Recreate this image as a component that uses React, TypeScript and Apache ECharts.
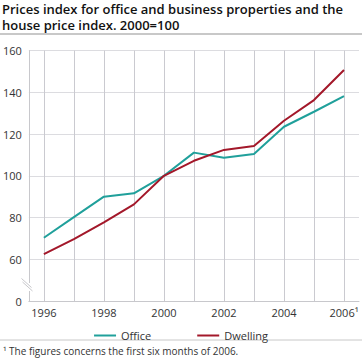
import React, { useEffect, useRef } from "react";
import * as echarts from "echarts";

const years = ["1996", "1997", "1998", "1999", "2000", "2001", "2002", "2003", "2004", "2005", "2006¹"];
const office = [70.3, 80.2, 90.0, 91.6, 100, 111.1, 108.7, 110.4, 123.5, 130.7, 138.2];
const dwelling = [62.5, 69.7, 77.7, 86.3, 100, 107.2, 112.4, 114.3, 126.4, 136.3, 150.7];
const yTicks = [40, 60, 80, 100, 120, 140, 160];
const yTickLabels = ["0", "60", "80", "100", "120", "140", "160"];

const titleLines = ["Prices index for office and business properties and the", "house price index. 2000=100"];
const footnote = "¹ The figures concerns the first six months of 2006.";

const FONT = "'Open Sans', 'Noto Sans', sans-serif";
const GRID = "#dcdce0";
const VGRID = "#cacad0";

export default function App() {
  const ref = useRef<HTMLDivElement>(null);
  useEffect(() => {
    if (!ref.current) return;
    const chart = echarts.init(ref.current, undefined, { renderer: "svg" });
    chart.setOption({
      animation: false,
      textStyle: { fontFamily: FONT },
      legend: {
        top: 325,
        left: "center",
        itemGap: 46,
        itemWidth: 22,
        itemHeight: 2,
        icon: "rect",
        textStyle: { fontSize: 11, color: "#333", fontFamily: FONT },
        data: ["Office", "Dwelling"],
      },
      grid: { left: 27, right: 3, top: 50.6, bottom: 63, containLabel: false },
      xAxis: {
        type: "category",
        data: years,
        boundaryGap: true,
        axisLine: { show: true, lineStyle: { color: "#c8c8cc", width: 1 } },
        axisTick: { show: false },
        axisLabel: {
          interval: 1,
          fontSize: 11,
          color: "#333",
          margin: 6,
          fontFamily: FONT,
        },
        splitLine: { show: false },
      },
      yAxis: {
        type: "value",
        min: 40,
        max: 160,
        interval: 20,
        axisLine: { show: true, lineStyle: { color: "#c8c8cc", width: 1 } },
        axisTick: { show: false },
        axisLabel: {
          fontSize: 11,
          color: "#333",
          margin: 7,
          fontFamily: FONT,
          formatter: (v: number) => {
            const i = yTicks.indexOf(v);
            return i >= 0 ? yTickLabels[i] : "";
          },
        },
        splitLine: { show: true, lineStyle: { color: GRID, width: 1 } },
      },
      series: [
        {
          name: "gridlines",
          type: "line",
          data: office,
          symbol: "none",
          silent: true,
          lineStyle: { opacity: 0 },
          z: 1,
          markLine: {
            silent: true,
            symbol: ["none", "none"],
            label: { show: false },
            lineStyle: { color: VGRID, width: 1, type: "solid", opacity: 1 },
            data: years.map((y) => ({ xAxis: y })),
          },
        },
        {
          name: "Office",
          type: "line",
          data: office,
          symbol: "none",
          lineStyle: { color: "#20a09b", width: 2 },
          itemStyle: { color: "#20a09b" },
          z: 5,
        },
        {
          name: "Dwelling",
          type: "line",
          data: dwelling,
          symbol: "none",
          lineStyle: { color: "#a3182a", width: 2 },
          itemStyle: { color: "#a3182a" },
          z: 5,
        },
      ],
      graphic: [
        { type: "text", left: 2, top: 1, style: { text: titleLines[0], fontSize: 13, lineHeight: 15, fontWeight: 600, fill: "#111", fontFamily: FONT } },
        { type: "text", left: 2, top: 17, style: { text: titleLines[1], fontSize: 13, lineHeight: 15, fontWeight: 600, fill: "#111", fontFamily: FONT } },
        { type: "line", shape: { x1: 0, y1: 34, x2: 362, y2: 34 }, style: { stroke: "#c8c8c8", lineWidth: 2 } },
        { type: "rect", shape: { x: 25, y: 283, width: 5, height: 8 }, style: { fill: "#fff" }, z: 100 },
        { type: "line", shape: { x1: 21.5, y1: 278.5, x2: 31.5, y2: 287.5 }, style: { stroke: "#c8c8cc", lineWidth: 1 }, z: 101 },
        { type: "line", shape: { x1: 22.5, y1: 282, x2: 32.5, y2: 291 }, style: { stroke: "#c8c8cc", lineWidth: 1 }, z: 101 },
        { type: "line", shape: { x1: 0, y1: 340, x2: 362, y2: 340 }, style: { stroke: "#c8c8c8", lineWidth: 1 } },
        {
          type: "text",
          left: 3,
          top: 346,
          style: { text: footnote, fontSize: 10, fill: "#333", fontFamily: FONT },
        },
      ],
    });
    return () => chart.dispose();
  }, []);
  return <div ref={ref} style={{ width: 362, height: 364, position: "absolute", left: 0, top: 0 }} />;
}
